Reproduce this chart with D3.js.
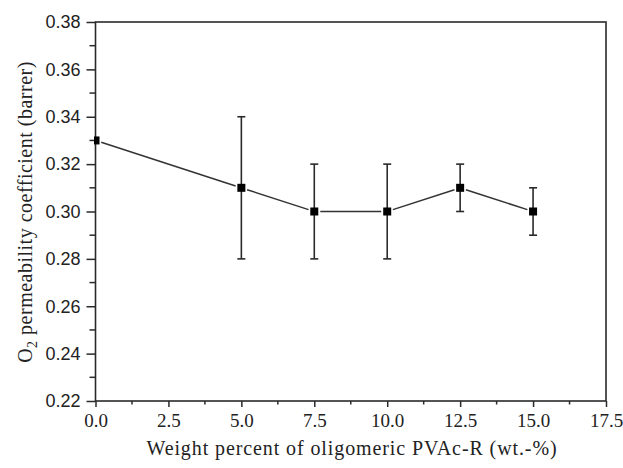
<!DOCTYPE html>
<html>
<head>
<meta charset="utf-8">
<script src="https://cdn.jsdelivr.net/npm/d3@7/dist/d3.min.js"></script>
<style>
  html, body { margin: 0; padding: 0; background: #fff; }
  svg { display: block; }
</style>
</head>
<body>
<svg id="chart" width="623" height="468"></svg>
<script>
// O2 permeability vs. PVAc-R loading
const loading = [0, 5, 7.5, 10, 12.5, 15];
const permeability = [0.33, 0.31, 0.30, 0.30, 0.31, 0.30];
const errLow = [0.33, 0.28, 0.28, 0.28, 0.30, 0.29];
const errHigh = [0.33, 0.34, 0.32, 0.32, 0.32, 0.31];
const xTicks = [0, 2.5, 5, 7.5, 10, 12.5, 15, 17.5];
const yTicks = [0.22, 0.24, 0.26, 0.28, 0.30, 0.32, 0.34, 0.36, 0.38];

(function draw() {
  const svg = d3.select("#chart");
  const plotL = 95.5, plotR = 606, plotT = 22, plotB = 401;
  const ink = "#2a2a2a";
  const serif = "'Liberation Serif', 'Times New Roman', serif";

  const x = d3.scaleLinear().domain([0, 17.5]).range([plotL, plotR]);
  const y = d3.scaleLinear().domain([0.22, 0.38]).range([plotB, plotT]);

  svg.append("clipPath").attr("id", "plot-clip")
    .append("rect")
    .attr("x", plotL - 1.5).attr("y", plotT)
    .attr("width", plotR - plotL + 1.5).attr("height", plotB - plotT);

  // frame
  svg.append("rect")
    .attr("x", plotL).attr("y", plotT)
    .attr("width", plotR - plotL).attr("height", plotB - plotT)
    .attr("fill", "none").attr("stroke", ink).attr("stroke-width", 1.6);

  // minor ticks sit halfway between majors
  const xMinor = xTicks.slice(0, -1).map(v => v + 1.25);
  const yMinor = yTicks.slice(0, -1).map(v => v + 0.01);

  const xAxis = d3.axisBottom(x).tickValues(xTicks).tickSize(6).tickFormat(d3.format(".1f"));
  const gx = svg.append("g").attr("transform", `translate(0,${plotB})`).call(xAxis);
  gx.select(".domain").remove();
  gx.selectAll(".tick line").attr("stroke", ink).attr("stroke-width", 1.5);
  gx.selectAll(".tick text")
    .attr("font-family", serif)
    .attr("font-size", 19).attr("fill", "#222").attr("dy", "0.92em");
  svg.append("g").selectAll("line").data(xMinor).join("line")
    .attr("x1", d => x(d)).attr("x2", d => x(d))
    .attr("y1", plotB).attr("y2", plotB + 3.5)
    .attr("stroke", ink).attr("stroke-width", 1.5);

  const yAxis = d3.axisLeft(y).tickValues(yTicks).tickSize(9).tickFormat(d3.format(".2f"));
  const gy = svg.append("g").attr("transform", `translate(${plotL},0)`).call(yAxis);
  gy.select(".domain").remove();
  gy.selectAll(".tick line").attr("stroke", ink).attr("stroke-width", 1.5);
  gy.selectAll(".tick text")
    .attr("font-family", "'Liberation Sans', Arial, sans-serif")
    .attr("font-size", 18).attr("fill", "#222").attr("x", -15);
  svg.append("g").selectAll("line").data(yMinor).join("line")
    .attr("x1", plotL - 6).attr("x2", plotL)
    .attr("y1", d => y(d)).attr("y2", d => y(d))
    .attr("stroke", ink).attr("stroke-width", 1.5);

  // connecting line, broken just short of each marker
  const pts = loading.map((v, i) => [x(v), y(permeability[i])]);
  const gap = 6;
  for (let i = 0; i < pts.length - 1; i++) {
    const [x0, y0] = pts[i], [x1, y1] = pts[i + 1];
    const len = Math.hypot(x1 - x0, y1 - y0);
    const ux = (x1 - x0) / len, uy = (y1 - y0) / len;
    svg.append("line")
      .attr("x1", x0 + ux * gap).attr("y1", y0 + uy * gap)
      .attr("x2", x1 - ux * gap).attr("y2", y1 - uy * gap)
      .attr("stroke", "#333").attr("stroke-width", 1.5);
  }

  // error bars
  const eb = svg.append("g").attr("stroke", ink).attr("stroke-width", 1.6);
  loading.forEach((v, i) => {
    if (errHigh[i] - errLow[i] <= 0) return;
    const cx = x(v);
    eb.append("line").attr("x1", cx).attr("x2", cx)
      .attr("y1", y(errLow[i])).attr("y2", y(errHigh[i]));
    [errLow[i], errHigh[i]].forEach(e => {
      eb.append("line").attr("x1", cx - 4).attr("x2", cx + 4)
        .attr("y1", y(e)).attr("y2", y(e));
    });
  });

  // markers
  svg.append("g").attr("clip-path", "url(#plot-clip)")
    .selectAll("rect").data(loading).join("rect")
    .attr("x", d => x(d) - 4).attr("y", (d, i) => y(permeability[i]) - 4)
    .attr("width", 8).attr("height", 8).attr("fill", "#000");

  // axis titles
  svg.append("text")
    .attr("x", 352).attr("y", 455)
    .attr("text-anchor", "middle")
    .attr("font-family", serif)
    .attr("font-size", 20).attr("letter-spacing", 0.9).attr("fill", "#222")
    .text("Weight percent of oligomeric PVAc-R (wt.-%)");

  const yt = svg.append("text")
    .attr("transform", "translate(32,212) rotate(-90)")
    .attr("text-anchor", "middle")
    .attr("font-family", serif)
    .attr("font-size", 20).attr("letter-spacing", 0.5).attr("fill", "#222");
  yt.append("tspan").text("O");
  yt.append("tspan").attr("font-size", 14).attr("dy", 5).text("2");
  yt.append("tspan").attr("dy", -5).text(" permeability coefficient (barrer)");
})();
</script>
</body>
</html>
